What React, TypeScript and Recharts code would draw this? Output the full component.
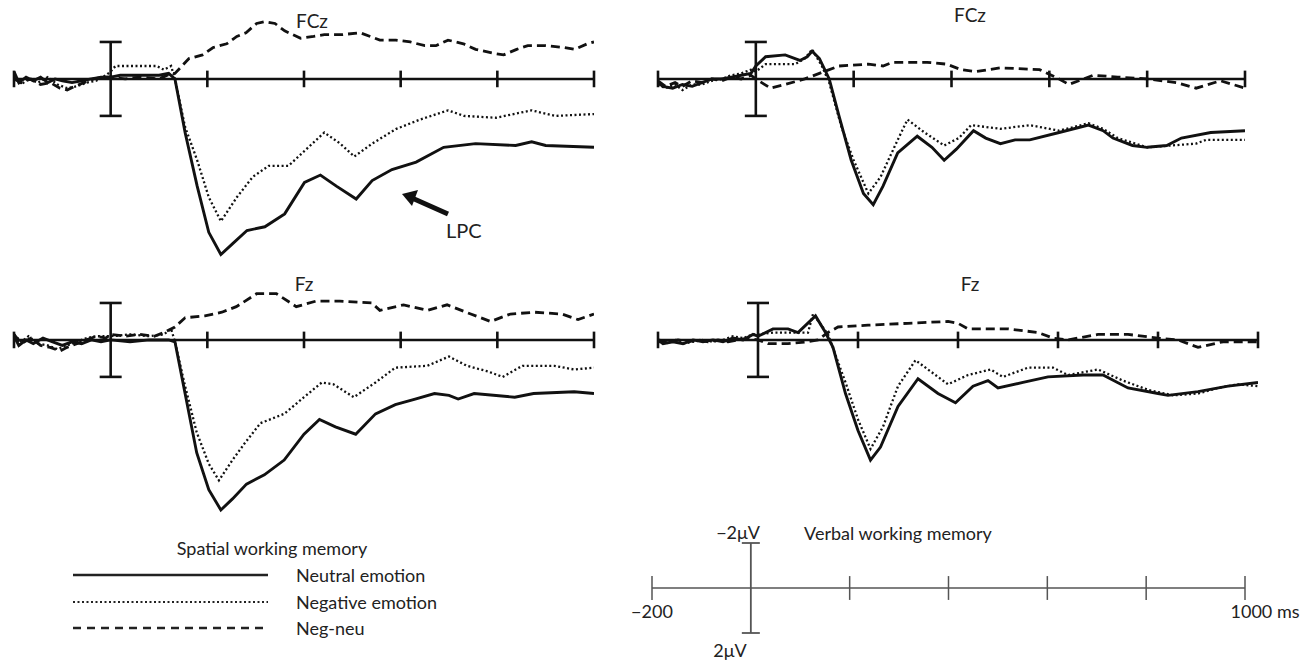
import { LineChart, Line, XAxis, YAxis, ReferenceLine } from "recharts";

type Pt = [number, number];

// time (ms) / amplitude (µV, negative plotted upwards)
const TICKS_MS = [-200, 200, 400, 600, 800, 1000];

const fczSpatialNeutral: Pt[] = [
  [-200, -0.4], [-190, 0.2], [-175, -0.1], [-160, 0.1], [-145, -0.1], [-130, 0.2], [-115, 0], [-100, 0.1],
  [-80, 0.2], [-60, 0.1], [-40, 0], [-20, -0.1], [0, -0.1], [20, -0.2], [60, -0.2], [100, -0.2], [120, -0.3],
  [133, 0], [154, 2.9], [179, 5.8], [203, 8.3], [228, 9.5], [253, 8.9], [282, 8.2], [319, 8.0], [360, 7.3],
  [401, 5.6], [434, 5.2], [467, 5.8], [508, 6.5], [541, 5.5], [582, 4.9], [632, 4.5], [689, 3.7], [755, 3.5],
  [838, 3.6], [871, 3.4], [900, 3.6], [1000, 3.7],
];
const fczSpatialNegative: Pt[] = [
  [-200, -0.2], [-185, 0.3], [-170, 0], [-150, 0.2], [-130, -0.1], [-110, 0.3], [-90, 0.5], [-70, 0.4],
  [-50, 0.2], [-30, 0.1], [-10, -0.2], [0, -0.4], [10, -0.7], [50, -0.7], [95, -0.7], [110, -0.5], [125, -0.7],
  [133, 0], [154, 2.6], [179, 4.4], [203, 6.4], [228, 7.7], [261, 6.4], [294, 5.3], [327, 4.7], [368, 4.7],
  [409, 3.7], [442, 2.9], [475, 3.5], [504, 4.2], [541, 3.5], [591, 2.7], [640, 2.2], [698, 1.7], [731, 2.0],
  [797, 2.1], [871, 1.7], [920, 2.0], [1000, 1.9],
];
const fczSpatialDiff: Pt[] = [
  [-200, 0], [-185, 0.2], [-165, 0], [-145, 0.3], [-125, 0.2], [-105, 0.5], [-90, 0.6], [-75, 0.4], [-55, 0.2],
  [-35, 0], [-15, -0.1], [0, -0.1], [30, 0], [60, -0.1], [100, 0], [125, -0.3], [133, -0.3], [162, -1.1],
  [190, -1.3], [212, -1.7], [240, -1.9], [261, -2.3], [280, -2.5], [302, -3.0], [319, -3.1], [340, -3.0],
  [360, -2.6], [393, -2.2], [420, -2.3], [442, -2.4], [480, -2.4], [516, -2.5], [557, -2.1], [590, -2.1],
  [620, -2.0], [650, -1.8], [673, -1.8], [698, -2.1], [730, -1.9], [755, -1.6], [790, -1.4], [813, -1.3],
  [840, -1.6], [863, -1.8], [900, -1.8], [937, -1.7], [960, -1.6], [986, -1.9], [1000, -2.0],
];

const fczVerbalNeutral: Pt[] = [
  [-200, 0.2], [-190, 0.4], [-170, 0.5], [-150, 0.3], [-130, 0.4], [-110, 0.2], [-90, 0], [-70, 0], [-50, -0.1],
  [-30, -0.2], [-10, -0.3], [0, -0.7], [20, -1.2], [60, -1.3], [90, -1.0], [105, -1.2], [115, -1.5], [130, -1.1],
  [150, 0], [170, 2.0], [195, 4.4], [220, 6.2], [240, 6.8], [260, 5.8], [290, 4.0], [330, 3.1], [360, 3.7],
  [385, 4.4], [410, 3.8], [445, 2.8], [470, 3.2], [500, 3.5], [530, 3.3], [560, 3.3], [620, 2.9], [680, 2.5],
  [710, 2.8], [730, 3.2], [770, 3.6], [800, 3.7], [840, 3.6], [870, 3.2], [930, 2.9], [1000, 2.8],
];
const fczVerbalNegative: Pt[] = [
  [-200, 0.3], [-185, 0.5], [-165, 0.3], [-150, 0.6], [-130, 0.3], [-110, 0.3], [-90, 0.1], [-70, 0], [-50, -0.2],
  [-30, -0.3], [-10, -0.5], [0, -0.4], [20, -0.8], [80, -0.8], [100, -1.1], [115, -1.6], [135, -0.7], [150, 0.2],
  [175, 2.6], [200, 4.4], [230, 6.2], [255, 5.3], [290, 3.3], [310, 2.2], [345, 2.9], [385, 3.6], [415, 3.2],
  [440, 2.5], [500, 2.7], [560, 2.5], [620, 2.8], [680, 2.4], [710, 2.7], [740, 3.2], [800, 3.7], [850, 3.6],
  [900, 3.5], [920, 3.3], [1000, 3.3],
];
const fczVerbalDiff: Pt[] = [
  [-200, 0.1], [-185, 0.4], [-165, 0.2], [-150, 0.4], [-130, 0.1], [-110, 0.2], [-90, 0], [-70, 0.1], [-50, -0.1],
  [-30, 0], [-10, -0.2], [0, 0], [30, 0.5], [60, 0.3], [100, 0], [140, -0.4], [170, -0.7], [230, -0.8],
  [260, -0.7], [280, -0.9], [350, -0.9], [390, -0.8], [420, -0.5], [450, -0.4], [500, -0.6], [580, -0.5],
  [620, 0], [640, 0.3], [690, -0.2], [740, -0.1], [800, 0], [860, 0.2], [900, 0.5], [950, 0.1], [1000, 0.5],
];

const fzSpatialNeutral: Pt[] = [
  [-200, -0.2], [-190, 0.3], [-175, 0], [-160, 0.2], [-140, -0.1], [-120, 0.1], [-100, 0.3], [-80, 0.1],
  [-60, 0.2], [-40, 0], [-20, 0.1], [0, 0], [40, 0.1], [80, 0], [120, 0], [133, 0.1], [154, 2.9], [178, 6.1],
  [203, 8.1], [228, 9.2], [252, 8.6], [281, 7.8], [318, 7.3], [359, 6.5], [400, 5.1], [432, 4.3], [465, 4.7],
  [507, 5.1], [548, 4.0], [589, 3.5], [630, 3.2], [670, 2.9], [700, 3.0], [719, 3.2], [752, 2.9], [836, 3.1],
  [875, 2.9], [959, 2.8], [1000, 2.9],
];
const fzSpatialNegative: Pt[] = [
  [-200, -0.3], [-185, 0.1], [-170, -0.2], [-150, 0.2], [-130, 0.3], [-110, 0.5], [-90, 0.3], [-70, 0.1],
  [-50, -0.1], [-30, -0.2], [0, -0.2], [40, -0.3], [80, -0.2], [110, -0.3], [125, -0.6], [133, 0.1], [154, 2.5],
  [178, 5.0], [203, 6.7], [224, 7.6], [252, 6.5], [277, 5.6], [310, 4.5], [359, 4.0], [400, 3.1], [437, 2.3],
  [461, 2.4], [503, 3.1], [548, 2.3], [589, 1.5], [655, 1.4], [700, 0.9], [737, 1.4], [780, 1.7], [811, 2.0],
  [852, 1.4], [918, 1.4], [959, 1.6], [1000, 1.5],
];
const fzSpatialDiff: Pt[] = [
  [-200, -0.3], [-185, 0.2], [-165, -0.1], [-145, 0.3], [-125, 0.4], [-105, 0.6], [-90, 0.4], [-70, 0.2],
  [-50, 0], [-30, -0.2], [-10, -0.1], [0, -0.3], [30, -0.2], [60, -0.3], [90, -0.2], [110, -0.4], [133, -0.7],
  [154, -1.2], [195, -1.3], [230, -1.5], [260, -1.8], [302, -2.5], [343, -2.5], [384, -1.8], [425, -2.1],
  [474, -2.1], [540, -2.0], [557, -1.6], [606, -1.9], [655, -1.6], [696, -1.9], [745, -1.4], [786, -1.0],
  [827, -1.4], [877, -1.5], [934, -1.4], [967, -1.1], [1000, -1.4],
];

const fzVerbalNeutral: Pt[] = [
  [-200, 0], [-190, 0.2], [-170, 0.1], [-150, 0.2], [-130, 0], [-110, 0.1], [-90, 0], [-70, 0.1], [-50, -0.1],
  [-30, 0], [-10, -0.3], [0, -0.2], [30, -0.6], [60, -0.6], [80, -0.4], [115, -1.3], [135, -0.4], [150, 0.4],
  [175, 2.9], [200, 4.9], [225, 6.5], [245, 5.8], [280, 3.6], [320, 2.1], [360, 2.9], [395, 3.4], [430, 2.5],
  [460, 2.2], [480, 2.6], [530, 2.3], [580, 2.0], [650, 1.9], [690, 1.9], [740, 2.6], [800, 2.9], [820, 3.0],
  [880, 2.8], [940, 2.5], [1000, 2.3],
];
const fzVerbalNegative: Pt[] = [
  [-200, 0.1], [-185, 0.2], [-165, 0], [-150, 0.2], [-130, 0.1], [-110, 0], [-90, 0.1], [-70, 0], [-50, -0.2],
  [-30, -0.1], [-10, -0.3], [0, -0.3], [30, -0.4], [100, -0.4], [110, -1.4], [140, -0.3], [175, 2.3], [200, 4.3],
  [225, 5.9], [250, 4.7], [280, 2.5], [315, 1.1], [340, 1.6], [380, 2.4], [420, 1.9], [465, 1.6], [490, 2.0],
  [540, 1.5], [590, 1.5], [620, 1.9], [680, 1.6], [730, 2.2], [780, 2.7], [830, 3.0], [880, 2.9], [920, 2.6],
  [960, 2.4], [1000, 2.5],
];
const fzVerbalDiff: Pt[] = [
  [-200, 0], [-180, 0.1], [-160, 0], [-140, 0.1], [-120, 0], [-100, 0.1], [-80, 0], [-60, 0.1], [-40, 0],
  [-20, -0.1], [0, 0], [20, 0.2], [60, 0.2], [100, 0.1], [120, 0], [140, -0.4], [160, -0.7], [220, -0.8],
  [300, -0.9], [380, -1.0], [400, -0.9], [420, -0.6], [500, -0.6], [560, -0.4], [590, -0.1], [620, 0],
  [680, -0.3], [740, -0.3], [800, -0.1], [840, 0], [880, 0.4], [930, 0.1], [1000, 0.1],
];

const LEGEND = ["Neutral emotion", "Negative emotion", "Neg-neu"];

const FONT = "Lato, 'Open Sans', sans-serif";
const INK = "#111";
const PAD = 4;
const PANEL_H = 268;
const Y_DOMAIN: [number, number] = [-4, 10.5];

const toRows = (pts: Pt[]) => pts.map(([t, v]) => ({ t, v }));

interface PanelProps {
  left: number;
  top: number;
  plotWidth: number;
  neutral: Pt[];
  negative: Pt[];
  diff: Pt[];
}

function ErpPanel({ left, top, plotWidth, neutral, negative, diff }: PanelProps) {
  const capMs = 11 / (plotWidth / 1200);
  return (
    <div style={{ position: "absolute", left: left - PAD, top }}>
      <LineChart
        width={plotWidth + PAD * 2}
        height={PANEL_H}
        margin={{ top: 0, right: PAD, bottom: 0, left: PAD }}
      >
        <XAxis type="number" dataKey="t" domain={[-200, 1000]} allowDataOverflow hide />
        <YAxis type="number" domain={Y_DOMAIN} reversed allowDataOverflow hide />
        <ReferenceLine y={0} stroke={INK} strokeWidth={2.6} />
        {TICKS_MS.map((t) => (
          <ReferenceLine
            key={t}
            segment={[{ x: t, y: -0.45 }, { x: t, y: 0.45 }]}
            stroke={INK}
            strokeWidth={2.6}
          />
        ))}
        <ReferenceLine segment={[{ x: 0, y: -2 }, { x: 0, y: 2 }]} stroke={INK} strokeWidth={2.6} />
        <ReferenceLine segment={[{ x: -capMs, y: -2 }, { x: capMs, y: -2 }]} stroke={INK} strokeWidth={2.6} />
        <ReferenceLine segment={[{ x: -capMs, y: 2 }, { x: capMs, y: 2 }]} stroke={INK} strokeWidth={2.6} />
        <Line
          data={toRows(diff)}
          dataKey="v"
          type="linear"
          stroke={INK}
          strokeWidth={2.8}
          strokeDasharray="9 5"
          dot={false}
          isAnimationActive={false}
        />
        <Line
          data={toRows(negative)}
          dataKey="v"
          type="linear"
          stroke={INK}
          strokeWidth={2.3}
          strokeDasharray="2 2.5"
          dot={false}
          isAnimationActive={false}
        />
        <Line
          data={toRows(neutral)}
          dataKey="v"
          type="linear"
          stroke={INK}
          strokeWidth={2.9}
          dot={false}
          isAnimationActive={false}
        />
      </LineChart>
    </div>
  );
}

function Label({ x, y, children, align = "center", size = 18 }: {
  x: number; y: number; children: React.ReactNode; align?: "center" | "left" | "right"; size?: number;
}) {
  const shift = align === "center" ? "-50%" : align === "right" ? "-100%" : "0";
  return (
    <div
      style={{
        position: "absolute",
        left: x,
        top: y,
        transform: `translate(${shift}, -50%)`,
        whiteSpace: "nowrap",
        fontFamily: FONT,
        fontSize: size,
        color: "#222",
        lineHeight: 1,
      }}
    >
      {children}
    </div>
  );
}

function ScaleBar() {
  // -200..1000 ms across 593 px, ±2 µV = 45 px
  const w = 593;
  const capMs = 9 / (w / 1200);
  const grey = "#555";
  return (
    <div style={{ position: "absolute", left: 652 - PAD, top: 534 }}>
      <LineChart width={w + PAD * 2} height={108} margin={{ top: 0, right: PAD, bottom: 0, left: PAD }}>
        <XAxis type="number" dataKey="t" domain={[-200, 1000]} allowDataOverflow hide />
        <YAxis type="number" domain={[-2.4, 2.4]} reversed allowDataOverflow hide />
        <ReferenceLine segment={[{ x: -200, y: 0 }, { x: 1000, y: 0 }]} stroke={grey} strokeWidth={1.5} />
        {TICKS_MS.map((t) => (
          <ReferenceLine
            key={t}
            segment={[{ x: t, y: -0.53 }, { x: t, y: 0.53 }]}
            stroke={grey}
            strokeWidth={1.5}
          />
        ))}
        <ReferenceLine segment={[{ x: 0, y: -2 }, { x: 0, y: 2 }]} stroke={grey} strokeWidth={1.8} />
        <ReferenceLine segment={[{ x: -capMs, y: -2 }, { x: capMs, y: -2 }]} stroke={grey} strokeWidth={1.8} />
        <ReferenceLine segment={[{ x: -capMs, y: 2 }, { x: capMs, y: 2 }]} stroke={grey} strokeWidth={1.8} />
      </LineChart>
    </div>
  );
}

function LegendBlock() {
  const styles = [
    { dash: undefined, width: 2.6 },
    { dash: "2 2.5", width: 2.2 },
    { dash: "8 6", width: 2.6 },
  ];
  return (
    <>
      {LEGEND.map((name, i) => {
        const y = 575 + i * 26.5;
        return (
          <div key={name}>
            <svg
              width={200}
              height={8}
              style={{ position: "absolute", left: 72, top: y - 4 }}
            >
              <line
                x1={1}
                x2={196}
                y1={4}
                y2={4}
                stroke="#222"
                strokeWidth={styles[i].width}
                strokeDasharray={styles[i].dash}
              />
            </svg>
            <Label x={296} y={y} align="left">{name}</Label>
          </div>
        );
      })}
    </>
  );
}

export default function App() {
  return (
    <div
      style={{
        position: "absolute",
        left: 0,
        top: 0,
        width: 1307,
        height: 660,
        background: "#fff",
        overflow: "hidden",
      }}
    >
      <ErpPanel left={14} top={5} plotWidth={580} neutral={fczSpatialNeutral} negative={fczSpatialNegative} diff={fczSpatialDiff} />
      <ErpPanel left={658} top={5} plotWidth={587} neutral={fczVerbalNeutral} negative={fczVerbalNegative} diff={fczVerbalDiff} />
      <ErpPanel left={14} top={266} plotWidth={580} neutral={fzSpatialNeutral} negative={fzSpatialNegative} diff={fzSpatialDiff} />
      <ErpPanel left={658} top={266} plotWidth={600} neutral={fzVerbalNeutral} negative={fzVerbalNegative} diff={fzVerbalDiff} />

      <Label x={312} y={20} size={19}>FCz</Label>
      <Label x={970} y={14} size={19}>FCz</Label>
      <Label x={304} y={283} size={19}>Fz</Label>
      <Label x={970} y={283} size={19}>Fz</Label>

      <svg width={80} height={50} style={{ position: "absolute", left: 395, top: 185 }}>
        <line x1={53} y1={29} x2={17} y2={13} stroke={INK} strokeWidth={5} />
        <polygon points="7,9 23,5 17,21" fill={INK} />
      </svg>
      <Label x={446} y={230} align="left" size={20}>LPC</Label>

      <Label x={272} y={548}>Spatial working memory</Label>
      <Label x={898} y={533}>Verbal working memory</Label>
      <LegendBlock />

      <ScaleBar />
      <Label x={760} y={532} align="right">−2μV</Label>
      <Label x={730} y={650}>2μV</Label>
      <Label x={652} y={611}>−200</Label>
      <Label x={1265} y={611}>1000 ms</Label>
    </div>
  );
}
